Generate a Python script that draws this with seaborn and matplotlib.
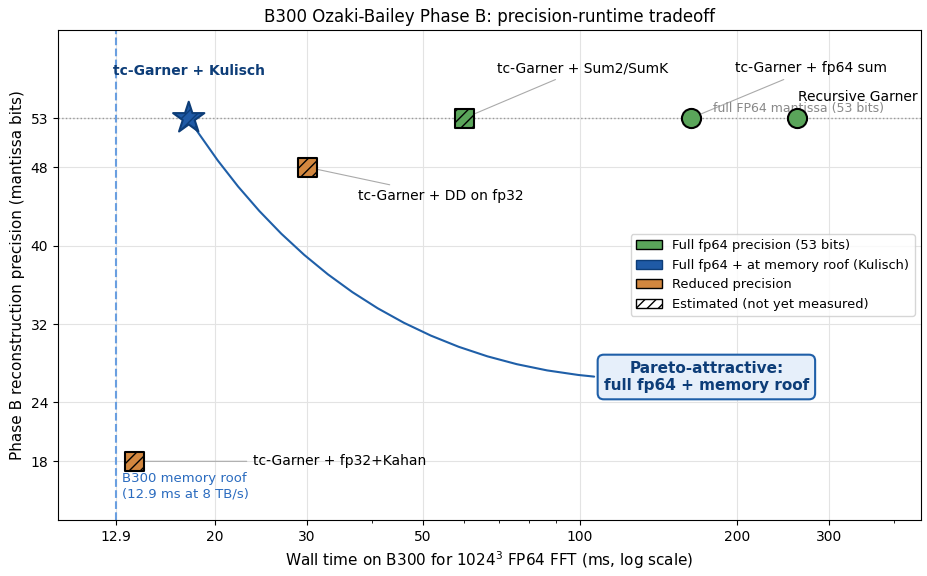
import pandas as pd
import matplotlib
matplotlib.use('Agg')
import matplotlib.pyplot as plt
import seaborn as sns
from matplotlib.patches import Patch
from matplotlib.ticker import NullFormatter

sns.set_style('ticks')
plt.rcParams['font.family'] = ['DejaVu Sans']
plt.rcParams['text.color'] = 'black'
plt.rcParams['axes.labelcolor'] = 'black'
plt.rcParams['xtick.color'] = 'black'
plt.rcParams['ytick.color'] = 'black'

# data
methods = ['tc-Garner + Kulisch', 'tc-Garner + Sum2/SumK', 'tc-Garner + fp64 sum',
           'Recursive Garner', 'tc-Garner + DD on fp32', 'tc-Garner + fp32+Kahan']
wall_ms = [17.8, 60, 163, 260, 30, 14]
bits = [53, 53, 53, 53, 48, 18]
group = ['kulisch', 'full', 'full', 'full', 'reduced', 'reduced']
estimated = [True, True, False, False, True, True]

mem_roof_ms = 12.9
x_ticks = [12.9, 20, 30, 50, 100, 200, 300]
y_ticks = [18, 24, 32, 40, 48, 53]

GREEN = '#5aa55a'
BLUE = '#1f5aa6'
ORANGE = '#d2873f'
DARK = '#0d3d78'

df = pd.DataFrame({'method': methods, 'ms': wall_ms, 'bits': bits,
                   'group': group, 'est': estimated})

fig, ax = plt.subplots(figsize=(9.28, 5.76), dpi=100)
fig.subplots_adjust(left=0.0625, right=0.9925, top=0.948, bottom=0.097)
ax.set_xscale('log')

ax.axvline(mem_roof_ms, color='#6a9fe0', ls='--', lw=1.5, zorder=1)
ax.axhline(53, color='#999999', ls=':', lw=1.0, zorder=1)

styles = {'full': ('o', GREEN, 'black', 190),
          'kulisch': ('*', BLUE, '#0d3d78', 560),
          'reduced': ('s', ORANGE, 'black', 190)}
for (g, est), sub in df.groupby(['group', 'est']):
    mk, fc, ec, s = styles[g]
    if g == 'full' and est:
        mk = 's'
    sns.scatterplot(data=sub, x='ms', y='bits', marker=mk, color=fc, edgecolor=ec,
                    linewidth=1.5, s=s, ax=ax, zorder=5, legend=False)
    if est:
        ax.collections[-1].set_hatch('///')

line_kw = dict(arrowstyle='-', color='#aaaaaa', lw=0.8)
ax.annotate('tc-Garner + Kulisch', xy=(17.8, 53), xytext=(17.8, 57.8),
            ha='center', va='center', fontsize=10, fontweight='bold', color=DARK)
ax.annotate('tc-Garner + Sum2/SumK', xy=(60, 53), xytext=(101, 58.1),
            ha='center', va='center', fontsize=10, arrowprops=line_kw)
ax.annotate('tc-Garner + fp64 sum', xy=(163, 53), xytext=(277, 58.1),
            ha='center', va='center', fontsize=10, arrowprops=line_kw)
ax.annotate('Recursive Garner', xy=(260, 53), xytext=(340, 55.2),
            ha='center', va='center', fontsize=10)
ax.annotate('tc-Garner + DD on fp32', xy=(30, 48), xytext=(54.1, 45.1),
            ha='center', va='center', fontsize=10, arrowprops=line_kw)
ax.annotate('tc-Garner + fp32+Kahan', xy=(14, 18), xytext=(34.6, 18),
            ha='center', va='center', fontsize=10, arrowprops=line_kw)
ax.text(262, 54.0, 'full FP64 mantissa (53 bits)', ha='center', va='center',
        fontsize=9, color='#888888')
ax.text(13.27, 15.45, 'B300 memory roof\n(12.9 ms at 8 TB/s)', ha='left', va='center',
        fontsize=9.5, color='#2a6bbf')

ax.annotate('Pareto-attractive:\nfull fp64 + memory roof', xy=(17.8, 53), xytext=(174.6, 26.6),
            ha='center', va='center', fontsize=11, fontweight='bold', color=DARK,
            bbox=dict(boxstyle='round,pad=0.4', fc='#e6effa', ec='#1f5fa8', lw=1.5),
            arrowprops=dict(arrowstyle='-', color='#1f5fa8', lw=1.5,
                            connectionstyle='arc3,rad=-0.3', shrinkB=0),
            zorder=4)

ax.set_xlim(10, 450)
ax.set_ylim(12, 62)
ax.set_xticks(x_ticks)
ax.set_xticklabels([str(t) for t in x_ticks])
ax.xaxis.set_minor_formatter(NullFormatter())
ax.set_yticks(y_ticks)
ax.grid(True, which='major', color='#e3e3e3', lw=0.8, zorder=0)
ax.set_axisbelow(True)
for sp in ax.spines.values():
    sp.set_visible(True)
    sp.set_color('black')
ax.tick_params(colors='black', labelsize=10)

ax.set_xlabel('Wall time on B300 for 1024$^3$ FP64 FFT (ms, log scale)', fontsize=11)
ax.set_ylabel('Phase B reconstruction precision (mantissa bits)', fontsize=11)
ax.set_title('B300 Ozaki-Bailey Phase B: precision-runtime tradeoff', fontsize=12)

handles = [Patch(facecolor=GREEN, edgecolor='black', label='Full fp64 precision (53 bits)'),
           Patch(facecolor=BLUE, edgecolor='#0d3d78', label='Full fp64 + at memory roof (Kulisch)'),
           Patch(facecolor=ORANGE, edgecolor='black', label='Reduced precision'),
           Patch(facecolor='white', edgecolor='black', hatch='///', label='Estimated (not yet measured)')]
ax.legend(handles=handles, loc='center right', fontsize=9.4, frameon=True)

fig.savefig('out.png', dpi=100)
